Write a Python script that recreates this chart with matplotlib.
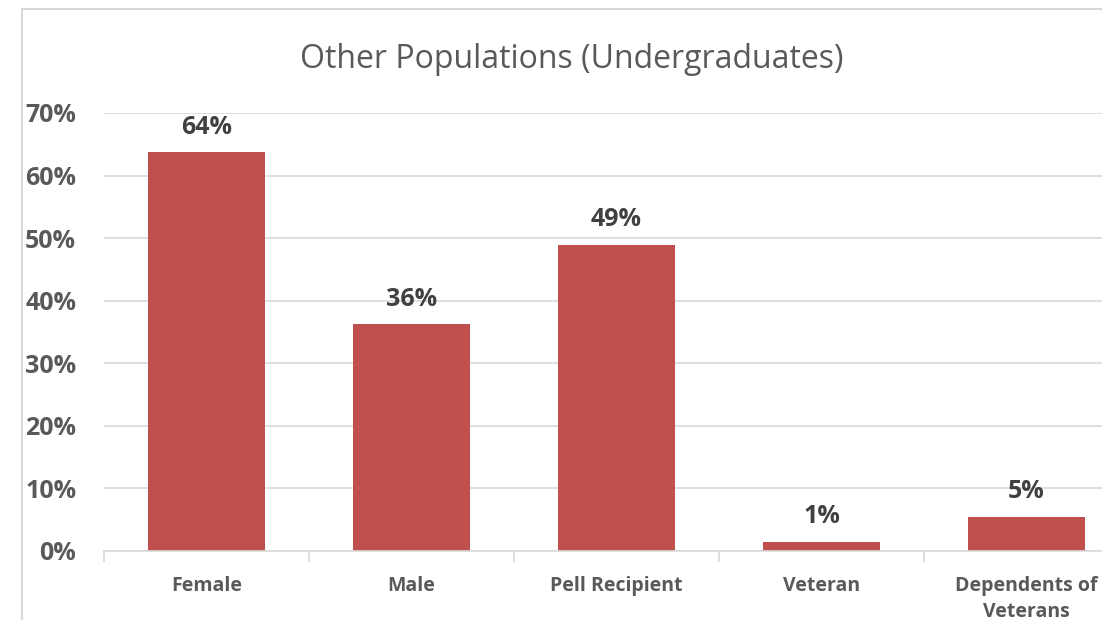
import matplotlib
matplotlib.use("Agg")
import matplotlib.pyplot as plt
from matplotlib.patches import Rectangle
from matplotlib.ticker import FixedLocator, NullFormatter

categories = ["Female", "Male", "Pell Recipient", "Veteran", "Dependents of\nVeterans"]
values = [0.637, 0.362, 0.489, 0.015, 0.054]
labels = ["64%", "36%", "49%", "1%", "5%"]
yticks = [0, 0.1, 0.2, 0.3, 0.4, 0.5, 0.6, 0.7]
ytick_labels = ["0%", "10%", "20%", "30%", "40%", "50%", "60%", "70%"]
title = "Other Populations (Undergraduates)"

W, H = 1102, 620
plt.rcParams['font.family'] = ['Open Sans', 'DejaVu Sans']
fig = plt.figure(figsize=(W / 100, H / 100), dpi=100)
fig.patch.set_facecolor("white")

# chart border
fig.patches.append(Rectangle((22 / W, -0.1), 1.2, (620 - 9) / H + 0.1,
                             transform=fig.transFigure, fill=False,
                             edgecolor="#D9D9D9", linewidth=1.5))

ax = fig.add_axes([104 / W, 69 / H, 1025 / W, 438 / H])
x = list(range(len(categories)))
ax.bar(x, values, width=0.575, color="#C0504D", zorder=3)
ax.set_xlim(-0.5, len(categories) - 0.5)
ax.set_ylim(0, 0.70)

ax.set_yticks(yticks)
ax.set_yticklabels(ytick_labels)
ax.tick_params(axis='y', length=0, pad=20, labelsize=18, labelcolor="#595959")
for t in ax.get_yticklabels():
    t.set_fontweight("bold")

ax.set_xticks(x)
ax.set_xticklabels(categories)
ax.tick_params(axis='x', length=0, pad=18, labelsize=14, labelcolor="#595959")
for t in ax.get_xticklabels():
    t.set_fontweight("bold")
    t.set_linespacing(1.4)
    t.set_verticalalignment("top")
ax.xaxis.set_minor_locator(FixedLocator([i - 0.5 for i in range(len(categories) + 1)]))
ax.xaxis.set_minor_formatter(NullFormatter())
ax.tick_params(axis='x', which='minor', length=8, color="#D9D9D9", width=1.2)

ax.grid(axis='y', color="#D9D9D9", linewidth=1.2, zorder=0)
for s in ["top", "right", "left"]:
    ax.spines[s].set_visible(False)
ax.spines["bottom"].set_color("#D9D9D9")
ax.spines["bottom"].set_linewidth(1.2)
ax.spines["bottom"].set_zorder(4)

for xi, v, lab in zip(x, values, labels):
    ax.annotate(lab, (xi, v), xytext=(0, 13.5), textcoords="offset points",
                ha="center", va="baseline", fontsize=18, fontweight="bold",
                color="#404040")

fig.text(572 / W, 1 - 59 / H, title, ha="center", va="center",
         fontsize=23, color="#595959")

fig.savefig("out.png", dpi=100)
